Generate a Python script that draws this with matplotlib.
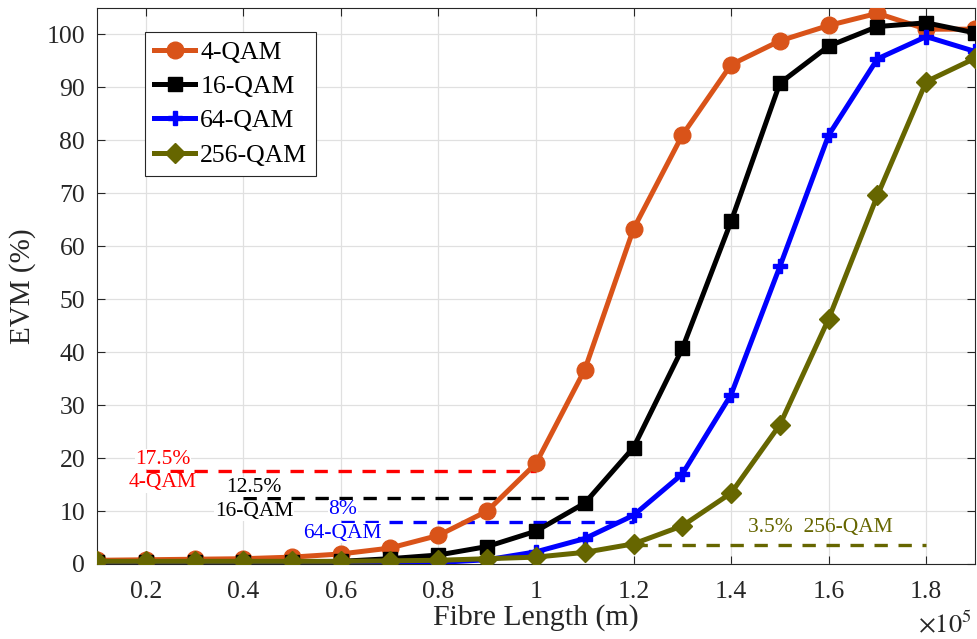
import matplotlib
matplotlib.use("Agg")
import matplotlib.pyplot as plt
import numpy as np

plt.rcParams['font.family'] = ['Liberation Serif', 'DejaVu Serif']
plt.rcParams['mathtext.fontset'] = 'stix'

fibre_length = [0.1, 0.2, 0.3, 0.4, 0.5, 0.6, 0.7, 0.8, 0.9, 1.0,
                1.1, 1.2, 1.3, 1.4, 1.5, 1.6, 1.7, 1.8, 1.9]  # x 1e5 m
evm_4qam = [0.7, 0.8, 0.9, 1.0, 1.3, 1.9, 3.0, 5.4, 10.0, 19.0,
            36.7, 63.3, 81.0, 94.3, 98.8, 101.7, 104.0, 101.0, 101.0]
evm_16qam = [0.3, 0.3, 0.3, 0.3, 0.4, 0.5, 1.0, 1.7, 3.3, 6.2,
             11.5, 22.0, 40.7, 64.7, 90.8, 97.8, 101.5, 102.2, 100.3]
evm_64qam = [0.1, 0.1, 0.1, 0.1, 0.1, 0.1, 0.1, 0.3, 0.8, 2.3,
             4.8, 9.2, 17.0, 32.0, 56.2, 81.0, 95.4, 99.6, 96.8]
evm_256qam = [0.5, 0.5, 0.5, 0.5, 0.5, 0.5, 0.6, 0.7, 1.0, 1.3,
              2.2, 3.8, 7.2, 13.4, 26.3, 46.3, 69.6, 91.1, 95.5]

thr_values = [17.5, 12.5, 8.0, 3.5]
thr_start = [0.2, 0.4, 0.6, 1.2]
thr_end = [1.0, 1.1, 1.2, 1.8]

fig = plt.figure(figsize=(9.77, 6.39), dpi=100)
ax = fig.add_axes([97/977, 75/639, 878/977, 556/639])

c4 = '#D95319'
c16 = '#000000'
c64 = '#0000FF'
c256 = '#666600'

lw = 3.6
ax.plot(fibre_length, evm_4qam, '-o', color=c4, lw=lw, ms=12, label='4-QAM', zorder=3)
ax.plot(fibre_length, evm_16qam, '-s', color=c16, lw=lw, ms=10.5, label='16-QAM', zorder=3)
ax.plot(fibre_length, evm_64qam, '-P', color=c64, lw=lw, ms=10, label='64-QAM', zorder=3)
ax.plot(fibre_length, evm_256qam, '-D', color=c256, lw=lw, ms=10.5, label='256-QAM', zorder=3)

thr_colors = ['#FF0000', '#000000', '#0000FF', '#666600']
for v, s, e, c in zip(thr_values, thr_start, thr_end, thr_colors):
    ax.plot([s, e], [v, v], '--', color=c, lw=2.4, dashes=(4, 3.2), zorder=2)

fs = 15.5
bb = dict(facecolor='white', edgecolor='none', pad=0.5)
ax.text(0.235, 19.8, '17.5%', color='#FF0000', fontsize=fs, ha='center', va='center', bbox=bb, zorder=4)
ax.text(0.235, 15.3, '4-QAM', color='#FF0000', fontsize=fs, ha='center', va='center', bbox=bb, zorder=4)
ax.text(0.422, 14.5, '12.5%', color='black', fontsize=fs, ha='center', va='center', bbox=bb, zorder=4)
ax.text(0.422, 10.0, '16-QAM', color='black', fontsize=fs, ha='center', va='center', bbox=bb, zorder=4)
ax.text(0.604, 10.2, '8%', color='#0000FF', fontsize=fs, ha='center', va='center', bbox=bb, zorder=4)
ax.text(0.604, 5.85, '64-QAM', color='#0000FF', fontsize=fs, ha='center', va='center', bbox=bb, zorder=4)
ax.text(1.582, 6.8, '3.5%  256-QAM', color='#666600', fontsize=fs, ha='center', va='center', zorder=4)

ax.set_xlim(0.1, 1.9)
ax.set_ylim(0, 105)
ax.set_xticks([0.2, 0.4, 0.6, 0.8, 1.0, 1.2, 1.4, 1.6, 1.8])
ax.set_xticklabels(['0.2', '0.4', '0.6', '0.8', '1', '1.2', '1.4', '1.6', '1.8'])
ax.set_yticks(np.arange(0, 101, 10))
ax.tick_params(labelsize=18.5, direction='in', top=True, right=True, length=6, colors='#262626')
ax.tick_params(axis='x', pad=12.5)
ax.tick_params(axis='y', pad=8.5)
ax.grid(True, color='#E0E0E0', lw=0.9)
ax.set_axisbelow(True)
for sp in ax.spines.values():
    sp.set_color('#262626')

ax.set_xlabel('Fibre Length (m)', fontsize=21.5, color='#262626', va='center')
ax.xaxis.set_label_coords(0.5, -(618 - 564) / 556)
ax.set_ylabel('EVM (%)', fontsize=21, color='#262626', va='center')
ax.yaxis.set_label_coords(-(97 - 23) / 878, 0.5)
fig.text(945/977, 1 - 624/639, r'$\times 10^5$', fontsize=19, color='#262626', ha='center', va='center')

leg = ax.legend(loc='upper left', bbox_to_anchor=(0.0547, 0.957), fontsize=18.5,
                frameon=True, fancybox=False, edgecolor='#262626', framealpha=1,
                handlelength=1.6, handletextpad=0.2, borderpad=0.35, labelspacing=0.44,
                borderaxespad=0)
leg.get_frame().set_linewidth(0.8)

fig.savefig('out.png', dpi=100)
